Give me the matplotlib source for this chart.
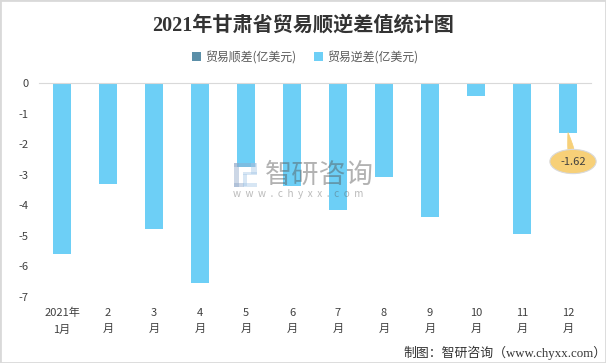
#!/usr/bin/env python3
import matplotlib
matplotlib.use('Agg')
import matplotlib.pyplot as plt
from matplotlib.patches import Rectangle

plt.rcParams['font.family'] = ['Noto Sans CJK SC', 'DejaVu Sans']

# ── Data ──────────────────────────────────────────────────────────────────────
months  = ['2021年\n1月', '2\n月', '3\n月', '4\n月', '5\n月', '6\n月',
           '7\n月', '8\n月', '9\n月', '10\n月', '11\n月', '12\n月']
surplus = [0, 0, 0, 0, 0, 0, 0, 0, 0, 0, 0, 0]
deficit = [-5.6, -3.32, -4.77, -6.55, -2.75, -3.38, -4.15, -3.06, -4.37, -0.42, -4.93, -1.62]
yticks  = [0, -1, -2, -3, -4, -5, -6, -7]

W, H = 606, 363
TEXT = '#404040'

fig = plt.figure(figsize=(W / 100, H / 100), dpi=100)
ax = fig.add_axes([39 / W, 1 - 297 / H, 552 / W, 214 / H])

x = list(range(len(months)))
ax.bar(x, surplus, width=0.39, color='#5b8fa8', label='贸易顺差(亿美元)')
ax.bar(x, deficit, width=0.39, color='#6dcff6', label='贸易逆差(亿美元)')

ax.set_xlim(-0.5, 11.5)
ax.set_ylim(-7, 0)
ax.set_yticks(yticks)
ax.set_yticklabels([str(v) for v in yticks], fontsize=8, color=TEXT)
ax.set_xticks(x)
ax.set_xticklabels(months, fontsize=8, color=TEXT, linespacing=1.75)
ax.tick_params(length=0, axis='both')
ax.tick_params(axis='y', pad=7.5)
ax.tick_params(axis='x', pad=8)
for s in ['left', 'right', 'bottom']:
    ax.spines[s].set_visible(False)
ax.spines['top'].set_color('#d9d9d9')
ax.spines['top'].set_zorder(5)

# ── Callout on December ───────────────────────────────────────────────────────
ax.annotate('-1.62', xy=(11, deficit[11]), xytext=(5, -29),
            textcoords='offset pixels', ha='center', va='center',
            fontsize=8, color=TEXT, zorder=6,
            bbox=dict(boxstyle='ellipse,pad=0.32', fc='#f7d078', ec='#d9d9d9', lw=0.8),
            arrowprops=dict(arrowstyle='wedge,tail_width=0.55,shrink_factor=0.6',
                            fc='#f7d078', ec='#f7d078', lw=0.5, shrinkA=0, shrinkB=0))

# ── Title, legend, source ─────────────────────────────────────────────────────
fig.text(303 / W, 1 - 26 / H, '2021年甘肃省贸易顺逆差值统计图', ha='center', va='center',
         fontsize=14.5, fontweight='bold', color='#333333',
         family=['Liberation Serif', 'Noto Sans CJK SC'])
leg = ax.legend(loc='center', bbox_to_anchor=(266 / 552, 1 + 26 / 214), ncol=2, frameon=False,
                fontsize=8.6, handlelength=0.75, handleheight=0.75, handletextpad=0.35,
                columnspacing=1.45)
for t in leg.get_texts():
    t.set_color('#595959')

fig.text(607 / W, 1 - 353 / H, '制图：智研咨询（www.chyxx.com）', ha='right', va='center',
         fontsize=9.3, color='#333333', family=['Liberation Serif', 'Noto Sans CJK SC'])

# ── Watermark ─────────────────────────────────────────────────────────────────
fig.text(265 / W, 1 - 175 / H, '智研咨询', ha='left', va='center', fontsize=19.6,
         color='#555555', alpha=0.45, zorder=10)
fig.text(233 / W, 1 - 194 / H, 'w  w  w  .  c  h  y  x  x  .  c  o  m', ha='left', va='center',
         fontsize=7.2, color='#555555', alpha=0.4, zorder=10)
for px, py, pw, ph, col in [(234, 163, 22, 4, '#8fa8c8'), (234, 163, 5, 24, '#8fa8c8'),
                            (234, 183, 10, 4, '#8fa8c8'), (251, 163, 6, 11, '#a8c8e8'),
                            (243, 172, 14, 3, '#a8c8e8'), (243, 174, 4, 12, '#a8c8e8'),
                            (243, 183, 14, 4, '#a8c8e8')]:
    fig.add_artist(Rectangle((px / W, 1 - (py + ph) / H), pw / W, ph / H, transform=fig.transFigure,
                             fc=col, ec='none', alpha=0.45, zorder=10))

# ── Outer border ──────────────────────────────────────────────────────────────
fig.add_artist(Rectangle((0, 0), 1, 1, transform=fig.transFigure, fc='none', ec='#d9d9d9', lw=2))

fig.savefig('out.png', dpi=100)
